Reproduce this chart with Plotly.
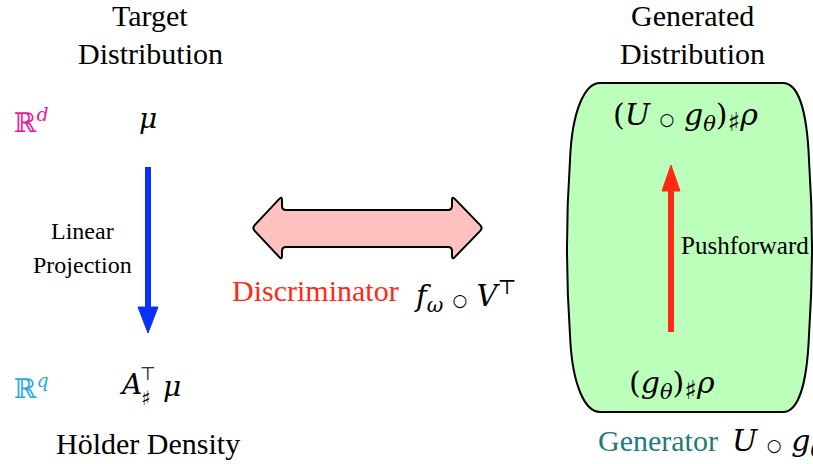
import plotly.graph_objects as go

W, H = 813, 464
SERIF = "Liberation Serif, DejaVu Serif, serif"
MATH = "DejaVu Serif, Liberation Serif, serif"
RING = '<span style="font-family:DejaVu Sans;font-size:17px">○</span>'
SHARP = '<sub><span style="font-family:DejaVu Sans;font-size:26px">♯</span></sub>'

# ---- text content ----
target_title = ["Target", "Distribution"]
generated_title = ["Generated", "Distribution"]
projection_label = ["Linear", "Projection"]
bottom_left_label = "Hölder Density"
space_symbols = ["ℝ<sup><i>d</i></sup>", "ℝ<sup><i>q</i></sup>"]
target_measure = "<i>μ</i>"
projected_measure = ["<i>A</i>", "⊤", "♯", "<i>μ</i>"]
generated_top = "(<i>U</i> " + RING + " <i>g</i><sub><i>θ</i></sub>)" + SHARP + "<i>ρ</i>"
generated_bottom = "(<i>g</i><sub><i>θ</i></sub>)" + SHARP + "<i>ρ</i>"
pushforward_label = "Pushforward"
discriminator_word = "Discriminator"
discriminator_math = "<i>f</i><sub><i>ω</i></sub> " + RING + " <i>V</i><sup>⊤</sup>"
generator_word = "Generator"
generator_math = "<i>U</i> " + RING + " <i>g</i><sub><i>θ</i></sub>"

# ---- colours ----
MAGENTA = "#E8189A"
CYAN = "#29A9E1"
BLUE = "#0A30FF"
RED = "#FF2A14"
TEAL = "#227B7B"
PINK = "#FFC0C0"
GREEN = "#BBFFBB"


def rounded_path(pts, r=4):
    n = len(pts)
    segs = []
    for i in range(n):
        p0, p1, p2 = pts[i - 1], pts[i], pts[(i + 1) % n]

        def toward(a, b, d):
            dx, dy = b[0] - a[0], b[1] - a[1]
            L = (dx * dx + dy * dy) ** 0.5
            return (a[0] + dx / L * d, a[1] + dy / L * d)
        a = toward(p1, p0, r)
        b = toward(p1, p2, r)
        segs.append((a, p1, b))
    d = "M %.1f,%.1f " % segs[0][0]
    for k, (a, c, b) in enumerate(segs):
        if k > 0:
            d += "L %.1f,%.1f " % a
        d += "Q %.1f,%.1f %.1f,%.1f " % (c[0], c[1], b[0], b[1])
    return d + "Z"


fig = go.Figure()
shapes = []
ann = []


def text(x, y, s, size, color="black", font=SERIF, xanchor="center"):
    ann.append(dict(x=x, y=y, text=s, showarrow=False, xanchor=xanchor,
                    yanchor="middle", font=dict(family=font, size=size, color=color)))


# titles
text(150, 15, target_title[0], 30)
text(150, 53, target_title[1], 30)
text(692, 15, generated_title[0], 30)
text(692, 53, generated_title[1], 30)

# left column
text(31, 120, space_symbols[0], 27, MAGENTA, MATH)
text(148, 118, target_measure, 28, "black", MATH)
text(31, 386, space_symbols[1], 27, CYAN, MATH)
text(130, 384, projected_measure[0], 28, "black", MATH)
text(148, 373, projected_measure[1], 18, "black", "DejaVu Sans")
text(146, 398, projected_measure[2], 20, "black", "DejaVu Sans")
text(172, 386, projected_measure[3], 28, "black", MATH)
text(148, 443, bottom_left_label, 30)
text(82, 231, projection_label[0], 24)
text(82, 265, projection_label[1], 24)

# blue projection arrow
shapes.append(dict(type="line", x0=148, y0=167, x1=148, y1=312,
                   line=dict(color=BLUE, width=6)))
shapes.append(dict(type="path", path="M 138,307 L 158,307 L 148,333 Z",
                   fillcolor=BLUE, line=dict(color=BLUE, width=1)))

# double arrow (discriminator)
arrow_pts = [(252, 228), (282, 196), (282, 210), (452, 210), (452, 196),
             (483, 228), (452, 260), (452, 247), (282, 247), (282, 260)]
shapes.append(dict(type="path", path=rounded_path(arrow_pts, 4),
                   fillcolor=PINK, line=dict(color="black", width=2)))
text(230, 290, discriminator_word, 30, RED, SERIF, "left")
text(412, 296, discriminator_math, 29, "black", MATH, "left")

# green barrel
barrel = ("M 600,83 L 783,83 C 798,83 807,110 809,160 Q 815,247 809,335 "
          "C 807,385 798,412 783,412 L 600,412 C 585,412 572,385 570,335 "
          "Q 564,247 570,160 C 572,110 585,83 600,83 Z")
shapes.append(dict(type="path", path=barrel, fillcolor=GREEN,
                   line=dict(color="black", width=2)))
text(685, 117, generated_top, 30, "black", MATH)
text(672, 385, generated_bottom, 30, "black", MATH)

# red pushforward arrow
shapes.append(dict(type="line", x0=671, y0=332, x1=671, y1=188,
                   line=dict(color=RED, width=6)))
shapes.append(dict(type="path", path="M 662,191 L 680,191 L 671,165 Z",
                   fillcolor=RED, line=dict(color=RED, width=1)))
text(679, 245, pushforward_label, 25, "black", SERIF, "left")

text(596, 440, generator_word, 30, TEAL, SERIF, "left")
text(730, 442, generator_math, 30, "black", MATH, "left")

fig.update_layout(
    width=W, height=H, margin=dict(l=0, r=0, t=0, b=0),
    paper_bgcolor="white", plot_bgcolor="white",
    xaxis=dict(range=[0, W], visible=False, fixedrange=True),
    yaxis=dict(range=[H, 0], visible=False, fixedrange=True),
    shapes=shapes, annotations=ann, showlegend=False,
)
fig.write_html("out.html", config={"displayModeBar": False},
               post_script="document.body.style.margin='0';document.body.style.padding='0';")
